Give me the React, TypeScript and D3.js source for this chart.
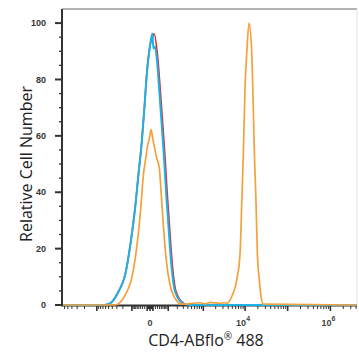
import React, { useEffect, useRef } from 'react';
import * as d3 from 'd3';

// FL1 values (logicle axis) and relative counts (%) for each overlay
const isotypeCurve: [number, number][] = [
  [-6500, 0], [-684, 0], [-458, 0.6], [-271, 4.7], [-171, 10.6], [-110, 22.4], [-74.7, 34.3],
  [-52.7, 46.1], [-33.8, 57.9], [-21.6, 69.8], [-11.7, 82], [0, 92], [7.9, 95], [14.4, 96.2],
  [30.9, 87.5], [44.5, 75.6], [59, 63.8], [74.7, 52], [90, 40.2], [110, 28.4], [133, 16.6],
  [184, 4.7], [315, 0.5], [458, 0], [4.2e6, 0],
];

const unstainedCurve: [number, number][] = [
  [-6500, 0], [-684, 0], [-458, 0.6], [-271, 4.7], [-171, 10.6], [-110, 22.4], [-74.7, 34.3],
  [-52.7, 46.1], [-33.8, 57.9], [-21.6, 69.8], [-11.7, 81.6], [0, 92.2], [7.9, 96.3], [11.7, 91],
  [18.5, 91.6], [26.1, 87.5], [39, 75.6], [52.7, 63.8], [67.6, 52], [82, 40.2], [101, 28.4],
  [123, 16.6], [171, 4.7], [301, 0.5], [458, 0], [4.2e6, 0],
];

const stainedCurve: [number, number][] = [
  [-6500, 0], [-336, 0], [-171, 3.5], [-95.8, 10.6], [-59, 22.4], [-39, 34.3], [-26.1, 46.1],
  [-15.7, 52], [-9.4, 56.1], [-2.3, 59], [3.3, 62.2], [9.4, 59], [26.1, 52], [39, 48.5],
  [48.5, 40.2], [62.9, 28.4], [82, 16.6], [116, 7.1], [171, 2.4], [271, 0.3], [458, 0.5],
  [828, 0.8], [1100, 0.4], [1460, 0.9], [2550, 0.6], [3360, 0.8], [3690, 0.5], [4850, 3],
  [6370, 8.9], [7620, 18.4], [8350, 36], [9110, 53.9], [10000, 77.4], [10960, 89.4],
  [12400, 100], [14360, 89.4], [15160, 77.4], [16540, 54], [18120, 36], [19440, 18.4],
  [21660, 8.9], [23760, 3], [26910, 0.3], [4.2e6, 0],
];

const seriesColors = ['#e8282c', '#1cb2e6', '#f6a03c'];
const yTicks = [0, 20, 40, 60, 80, 100];
const xLabels: { value: number; base: string; exp: string }[] = [
  { value: 0, base: '0', exp: '' },
  { value: 1e4, base: '10', exp: '4' },
  { value: 1e6, base: '10', exp: '6' },
];

const App: React.FC = () => {
  const svgRef = useRef<SVGSVGElement | null>(null);

  useEffect(() => {
    const svg = d3.select(svgRef.current);
    svg.selectAll('*').remove();

    const xScale = d3.scaleSymlog().constant(60).domain([-6500, 4.2e6]).range([63, 357]);
    const yScale = d3.scaleLinear().domain([0, 105]).range([305, 9]);

    // frame
    svg.append('line').attr('x1', 62).attr('x2', 357).attr('y1', 9).attr('y2', 9)
      .attr('stroke', '#9a9a9a').attr('stroke-width', 1.5);
    svg.append('line').attr('x1', 357).attr('x2', 357).attr('y1', 9).attr('y2', 305)
      .attr('stroke', '#e2e2e2').attr('stroke-width', 1);

    // y ticks
    const yMinor = d3.range(0, 101, 5);
    svg.append('g').selectAll('line').data(yMinor).join('line')
      .attr('x1', d => (d % 20 === 0 ? 55 : 59)).attr('x2', 62)
      .attr('y1', d => yScale(d)).attr('y2', d => yScale(d))
      .attr('stroke', '#333').attr('stroke-width', d => (d % 20 === 0 ? 2 : 1.3));
    svg.append('g').selectAll('text').data(yTicks).join('text')
      .attr('x', 46).attr('y', d => yScale(d)).attr('dy', '0.35em')
      .attr('text-anchor', 'end').attr('font-family', 'Liberation Sans, Arial, sans-serif')
      .attr('font-size', 9).attr('font-weight', 'bold').attr('fill', '#333')
      .text(d => d);

    // x ticks on logicle scale
    const xTickVals: { v: number; major: boolean }[] = [{ v: 0, major: true }];
    for (let k = 0; k <= 6; k++) {
      for (let m = 1; m <= 9; m++) {
        const v = m * Math.pow(10, k);
        if (v <= 4.2e6) xTickVals.push({ v, major: m === 1 && k > 0 });
        if (-v >= -6500) xTickVals.push({ v: -v, major: m === 1 && k > 0 });
      }
    }
    svg.append('g').selectAll('line').data(xTickVals).join('line')
      .attr('x1', d => xScale(d.v)).attr('x2', d => xScale(d.v))
      .attr('y1', 305).attr('y2', d => (d.major ? 311 : 309))
      .attr('stroke', '#333').attr('stroke-width', d => (d.major ? 1.6 : 1));

    const xl = svg.append('g').selectAll('text').data(xLabels).join('text')
      .attr('x', d => xScale(d.value) - (d.exp ? 2 : 0)).attr('y', 326)
      .attr('text-anchor', 'middle').attr('font-family', 'Liberation Sans, Arial, sans-serif')
      .attr('font-size', 9).attr('font-weight', 'bold').attr('fill', '#444');
    xl.append('tspan').text(d => d.base);
    xl.append('tspan').attr('dy', -5).attr('font-size', 7).text(d => d.exp);

    // axis lines
    svg.append('line').attr('x1', 62).attr('x2', 62).attr('y1', 9).attr('y2', 306)
      .attr('stroke', '#333').attr('stroke-width', 2);
    svg.append('line').attr('x1', 61).attr('x2', 357).attr('y1', 305.5).attr('y2', 305.5)
      .attr('stroke', '#333').attr('stroke-width', 2);

    // histograms
    const line = d3.line<[number, number]>()
      .x(d => xScale(d[0]))
      .y(d => yScale(d[1]))
      .curve(d3.curveMonotoneX);

    [isotypeCurve, unstainedCurve, stainedCurve].forEach((curve, i) => {
      svg.append('path')
        .attr('d', line(curve))
        .attr('fill', 'none')
        .attr('stroke', seriesColors[i])
        .attr('stroke-width', i === 1 ? 2 : 1.7)
        .attr('stroke-linejoin', 'round');
    });

    // axis titles
    svg.append('text')
      .attr('transform', 'translate(26,164) rotate(-90)')
      .attr('text-anchor', 'middle').attr('dy', '0.35em')
      .attr('font-family', 'Open Sans, Noto Sans, sans-serif').attr('font-size', 16)
      .attr('fill', '#222').text('Relative Cell Number');

    const xt = svg.append('text')
      .attr('x', 206).attr('y', 346).attr('text-anchor', 'middle')
      .attr('font-family', 'Open Sans, Noto Sans, sans-serif').attr('font-size', 16)
      .attr('fill', '#222');
    xt.append('tspan').text('CD4-ABflo');
    xt.append('tspan').attr('dy', -6).attr('font-size', 10).text('®');
    xt.append('tspan').attr('dy', 6).text(' 488');
  }, []);

  return (
    <svg ref={svgRef} width={359} height={360}
      style={{ position: 'absolute', left: 0, top: 0, background: '#fff' }} />
  );
};

export default App;
